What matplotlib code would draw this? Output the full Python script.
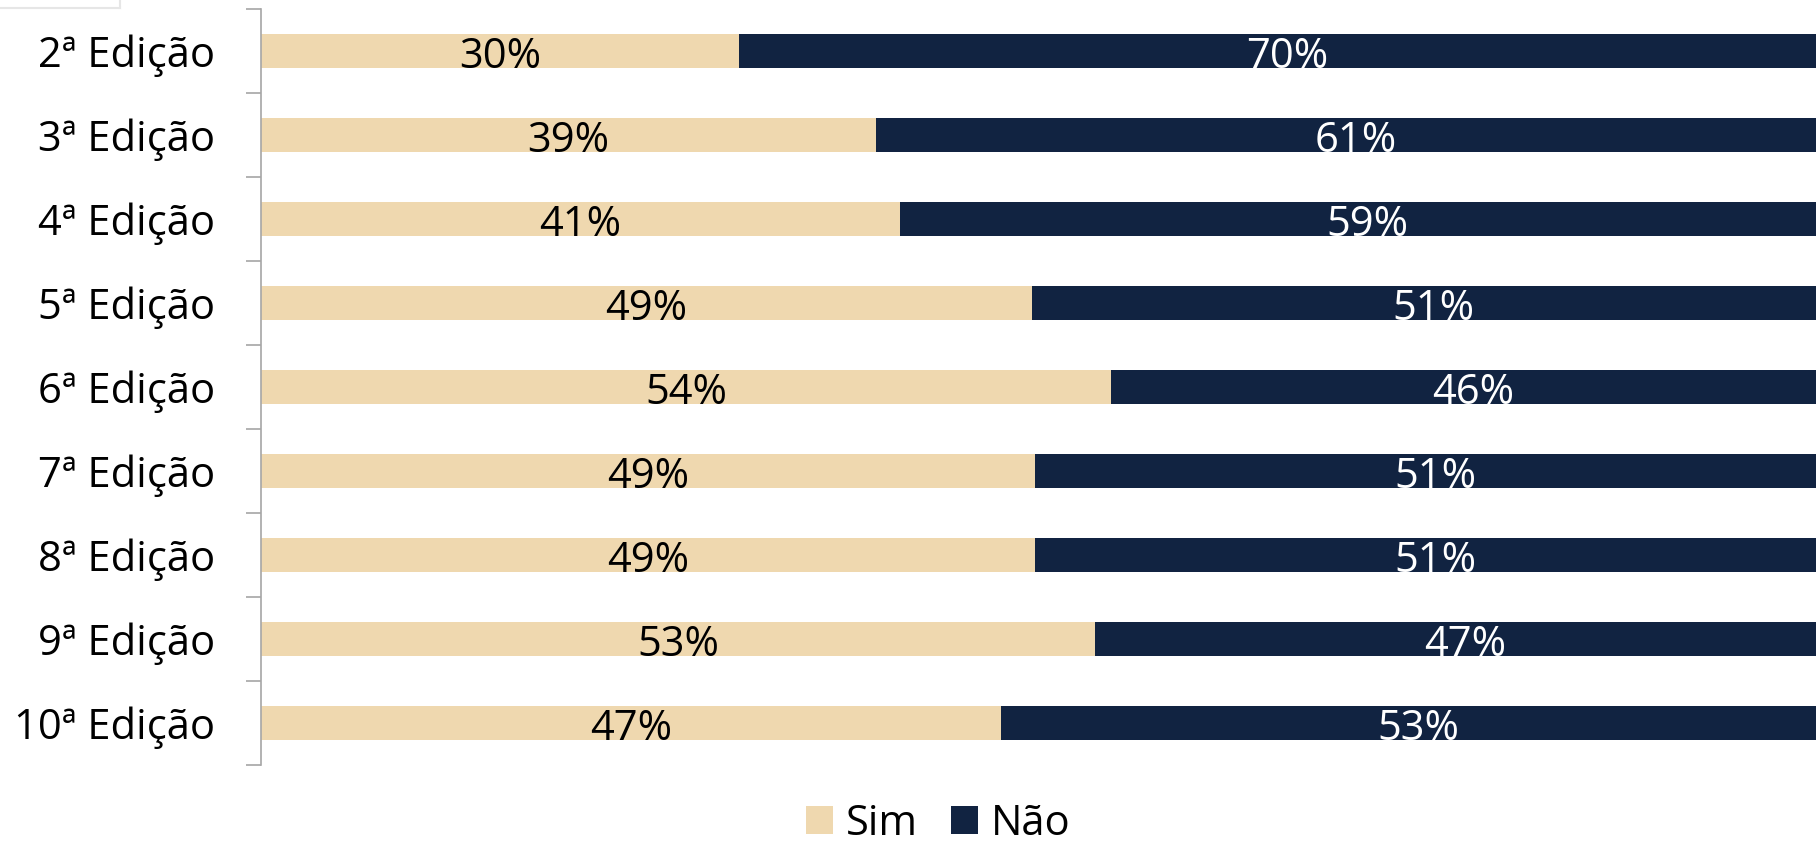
import matplotlib
matplotlib.use("Agg")
import matplotlib.pyplot as plt
import numpy as np

categories = ["2ª Edição", "3ª Edição", "4ª Edição", "5ª Edição", "6ª Edição",
              "7ª Edição", "8ª Edição", "9ª Edição", "10ª Edição"]
sim = [30.4, 39.1, 40.6, 49.0, 54.0, 49.2, 49.2, 53.0, 47.0]
nao = [69.6, 60.9, 59.4, 51.0, 46.0, 50.8, 50.8, 47.0, 53.0]
sim_labels = ["30%", "39%", "41%", "49%", "54%", "49%", "49%", "53%", "47%"]
nao_labels = ["70%", "61%", "59%", "51%", "46%", "51%", "51%", "47%", "53%"]
series_names = ["Sim", "Não"]

C_SIM = "#EFD8AF"
C_NAO = "#112341"

plt.rcParams['font.family'] = ['Open Sans', 'DejaVu Sans']
FS = 30

W, H = 1816, 846
fig = plt.figure(figsize=(W / 100, H / 100), dpi=100)
ax = fig.add_axes([261 / W, 1 - 765 / H, 1574 / W, (765 - 9) / H])

y = np.arange(len(categories))
ax.barh(y, sim, height=0.405, color=C_SIM, label=series_names[0])
ax.barh(y, nao, left=sim, height=0.405, color=C_NAO, label=series_names[1])

for i in range(len(categories)):
    ax.text(sim[i] / 2, y[i] + 0.07, sim_labels[i], ha='center', va='center',
            fontsize=FS, color='black')
    ax.text(sim[i] + nao[i] / 2, y[i] + 0.07, nao_labels[i], ha='center', va='center',
            fontsize=FS, color='white')

ax.set_xlim(0, 100)
ax.set_ylim(len(categories) - 0.5, -0.5)
ax.set_yticks(y)
ax.set_yticklabels(categories, fontsize=FS)
ax.set_yticks(np.arange(-0.5, len(categories), 1.0), minor=True)
ax.tick_params(axis='y', which='major', length=0, pad=33)
ax.tick_params(axis='y', which='minor', length=11, width=1.2, color='#A6A6A6')
ax.set_xticks([])
for s in ['top', 'right', 'bottom']:
    ax.spines[s].set_visible(False)
ax.spines['left'].set_color('#A6A6A6')
ax.spines['left'].set_linewidth(1.2)

fig.legend(loc='center', bbox_to_anchor=(938 / W, 1 - 824 / H), ncol=2,
           frameon=False, fontsize=FS, handlelength=0.65, handleheight=0.65,
           handletextpad=0.3, columnspacing=0.8, borderaxespad=0, borderpad=0)

# faint box remnant at top-left
fig.add_artist(plt.Line2D([0, 120 / W], [1 - 8 / H, 1 - 8 / H], transform=fig.transFigure,
                          color='#E6E6E6', lw=1.5))
fig.add_artist(plt.Line2D([120 / W, 120 / W], [1, 1 - 8 / H], transform=fig.transFigure,
                          color='#E6E6E6', lw=1.5))

fig.savefig("out.png", dpi=100)
